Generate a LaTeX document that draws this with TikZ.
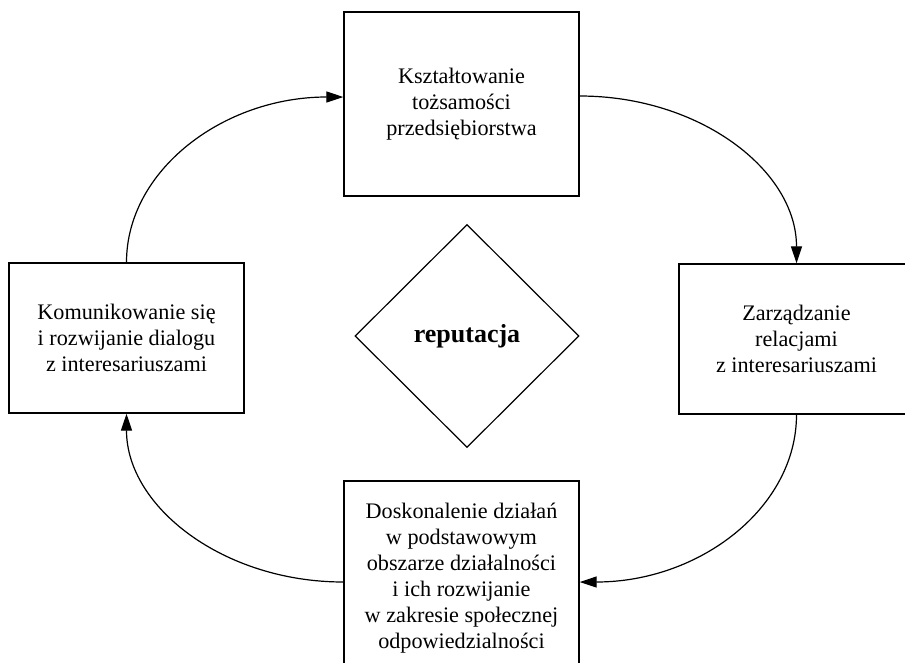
\documentclass[tikz,border=0pt]{standalone}
\usepackage{fontspec}
\setmainfont{Liberation Serif}
\usetikzlibrary{shapes.geometric,arrows.meta,calc}
\begin{document}
\begin{tikzpicture}[x=1pt,y=-1pt,
  stage/.style={draw, line width=1.4pt, minimum width=235pt, inner sep=0pt,
    align=center, font=\fontsize{22.2}{26}\selectfont},
  flow/.style={line width=1.2pt, -{Triangle[length=17pt,width=11pt]}},
  core/.style={draw, diamond, line width=1.2pt, minimum width=224pt,
    minimum height=223pt, inner sep=0pt, font=\fontsize{26}{30}\selectfont\bfseries}]
\useasboundingbox (0,0) rectangle (905,662);
\clip (0,0) rectangle (905,662);

% the four stages of the cycle
\node[stage, minimum height=184pt] (top) at (461.5,104)
  {Kształtowanie\\tożsamości\\przedsiębiorstwa};
\node[stage, minimum height=150pt] (left) at (126.5,338)
  {Komunikowanie się\\i rozwijanie dialogu\\z interesariuszami};
\node[stage, minimum height=150pt] (right) at (796.5,339)
  {Zarządzanie\\relacjami\\z interesariuszami};
\node[stage, minimum height=194pt] (bottom) at (461.5,578)
  {Doskonalenie działań\\w podstawowym\\obszarze działalności\\i ich rozwijanie\\w zakresie społecznej\\odpowiedzialności};

% centre
\node[core] (rep) at (467,336) {reputacja};

% attachment points on the sides of the boxes
\coordinate (topW) at ($(top.west)+(0,-7)$);
\coordinate (topE) at ($(top.east)+(0,-8)$);
\coordinate (botE) at ($(bottom.east)+(0,4)$);
\coordinate (botW) at ($(bottom.west)+(0,4)$);

% clockwise arrows
\draw[flow] (left.north) .. controls +(0,-92) and +(-120,0) .. (topW);
\draw[flow] (topE) .. controls +(120,0) and +(0,-93) .. (right.north);
\draw[flow] (right.south) .. controls +(0,93) and +(120,0) .. (botE);
\draw[flow] (botW) .. controls +(-120,0) and +(0,93) .. (left.south);
\end{tikzpicture}
\end{document}
